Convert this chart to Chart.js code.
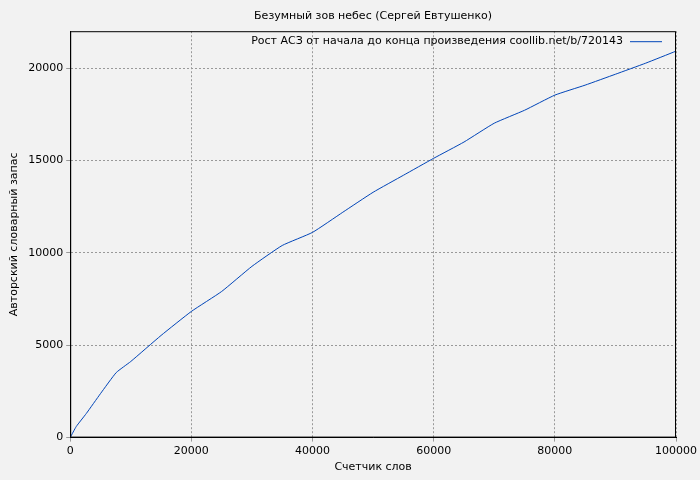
<!DOCTYPE html>
<html><head><meta charset="utf-8">
<script src="https://cdn.jsdelivr.net/npm/chart.js@4"></script>
<style>html,body{margin:0;background:#f2f2f2}#w{width:700px;height:480px}</style>
</head><body><div id="w"><canvas id="c"></canvas></div>
<script>
const words = [0,1000,2650,5000,7600,10000,15000,20000,25000,30000,35000,40000,45000,50000,55000,60000,65000,70000,75000,80000,85000,90000,95000,100000];
const vocab = [0,600,1300,2380,3520,4120,5530,6830,7910,9270,10400,11110,12200,13280,14200,15120,16000,17020,17720,18540,19080,19670,20270,20920];
const titleText = 'Безумный зов небес (Сергей Евтушенко)';
const seriesLabel = 'Рост АСЗ от начала до конца произведения coollib.net/b/720143';
const xTitle = 'Счетчик слов';
const yTitle = 'Авторский словарный запас';
const xTicks = [0,20000,40000,60000,80000,100000];
const yTicks = [0,5000,10000,15000,20000];
const F = 'DejaVu Sans';
const overlay = {id:'ov', afterDraw(ch){
  const ctx=ch.ctx, a=ch.chartArea;
  ctx.save(); ctx.font='11px "'+F+'"'; ctx.fillStyle='#000'; ctx.textBaseline='middle';
  ctx.textAlign='center'; ctx.fillText(titleText,(a.left+a.right)/2,16);
  ctx.textAlign='right'; ctx.fillText(seriesLabel, a.right-53, a.top+10);
  ctx.strokeStyle='#0045b8'; ctx.lineWidth=1; ctx.beginPath(); ctx.moveTo(a.right-46,a.top+10.5); ctx.lineTo(a.right-14,a.top+10.5); ctx.stroke();
  ctx.strokeStyle='#000'; ctx.strokeRect(a.left+0.5,a.top+0.5,a.right-a.left-1,a.bottom-a.top-1);
  ctx.restore();
}};
const bgPlugin = {id:'bg', beforeDraw(ch){const c=ch.ctx;c.save();c.fillStyle='#f2f2f2';c.fillRect(0,0,ch.width,ch.height);c.restore();}};
new Chart(document.getElementById('c'), {
  type:'line',
  data:{datasets:[{label:seriesLabel, data:words.map((x,i)=>({x, y:vocab[i]})), borderColor:'#0045b8', borderWidth:1, pointRadius:0, tension:0.15, fill:false}]},
  options:{responsive:true, maintainAspectRatio:false, animation:false,
    layout:{padding:{left:4,right:22,top:0,bottom:2}},
    plugins:{legend:{display:false}, tooltip:{enabled:false},
      title:{display:true, text:' ', font:{family:F,size:11}, padding:{top:10,bottom:8}}},
    scales:{
      x:{type:'linear', min:0, max:100000,
        afterBuildTicks(ax){ax.ticks=xTicks.map(v=>({value:v}));},
        ticks:{color:'#000', font:{family:F,size:11}, maxRotation:0, callback:v=>String(v)},
        grid:{color:'#999', tickLength:4}, border:{display:true,color:'#000',dash:[2,2]},
        title:{display:true, text:xTitle, color:'#000', font:{family:F,size:11}, padding:{top:0}}},
      y:{min:0, max:22000,
        afterBuildTicks(ax){ax.ticks=yTicks.map(v=>({value:v}));},
        ticks:{color:'#000', font:{family:F,size:11}, callback:v=>String(v)},
        grid:{color:'#999', tickLength:4}, border:{display:true,color:'#000',dash:[2,2]},
        title:{display:true, text:yTitle, color:'#000', font:{family:F,size:11}}}
    }},
  plugins:[bgPlugin, overlay]
});
</script>
</body></html>
